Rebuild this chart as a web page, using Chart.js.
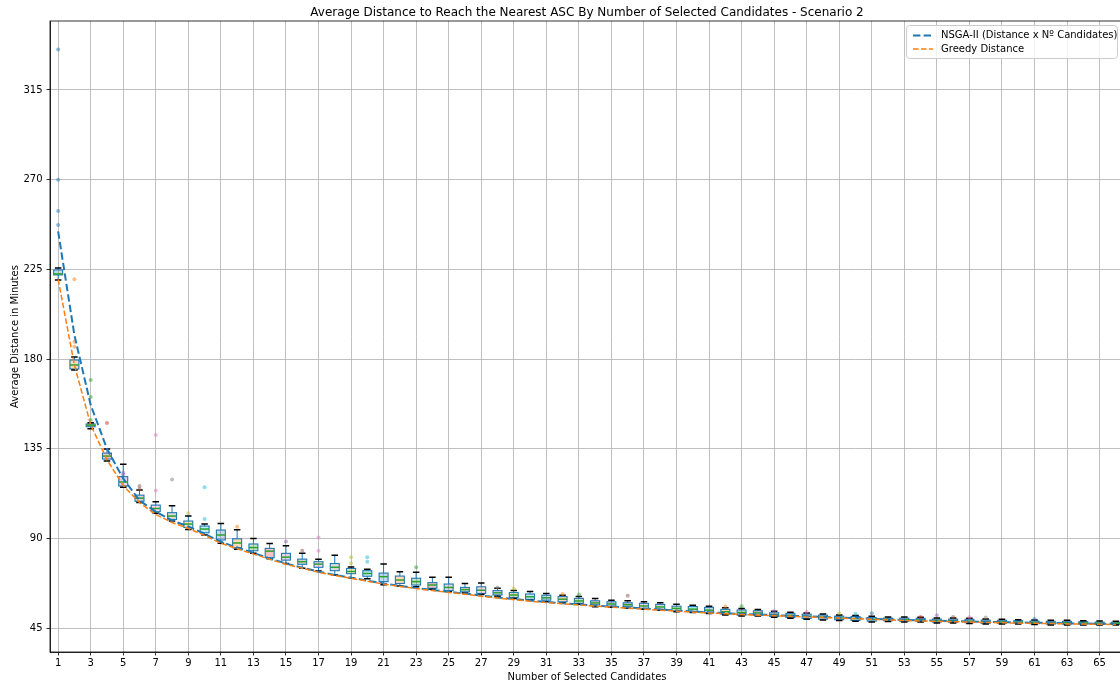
<!DOCTYPE html>
<html>
<head>
<meta charset="utf-8">
<title>Average Distance - Scenario 2</title>
<script src="https://cdn.jsdelivr.net/npm/chart.js@4.4.0/dist/chart.umd.min.js"></script>
<style>
  html, body { margin: 0; padding: 0; background: #fff; overflow: hidden; }
  #wrap { width: 1128px; height: 686px; }
</style>
</head>
<body>
<div id="wrap"><canvas id="distChart" width="1128" height="686"></canvas></div>
<script>
// Data
const candidates = [1, 2, 3, 4, 5, 6, 7, 8, 9, 10, 11, 12, 13, 14, 15, 16, 17, 18, 19, 20, 21, 22,
  23, 24, 25, 26, 27, 28, 29, 30, 31, 32, 33, 34, 35, 36, 37, 38, 39, 40, 41, 42, 43, 44,
  45, 46, 47, 48, 49, 50, 51, 52, 53, 54, 55, 56, 57, 58, 59, 60, 61, 62, 63, 64, 65, 66];

const whiskerLow = [219.6, 174.5, 145, 128.8, 115.7, 108, 102.6, 98.7, 94.5, 91.7, 87.6, 84.5, 82.5, 79.8,
  77.4, 75, 73.6, 71.6, 70.3, 69.7, 66.8, 66.1, 65.7, 64.5, 63.2, 62.6, 61.8, 61, 59.9, 59, 58.2, 57.7,
  56.9, 55.7, 55.5, 55, 54.4, 53.9, 53.2, 52.8, 52.3, 51.6, 51.1, 51.1, 50.4, 49.9, 49.4, 49.1, 48.8,
  48.4, 48.1, 48.3, 48, 48, 47.6, 47.5, 47.3, 47, 47, 47, 46.8, 46.6, 46.6, 46.6, 46.5, 46.5];
const quart1 = [222.2, 175, 146, 129.8, 116.3, 108.6, 103.4, 99.5, 95.5, 92.8, 89.2, 85.3, 83.8, 80.3,
  79.1, 77, 75.5, 73.8, 72.3, 71, 68.3, 67.4, 66.6, 65, 63.8, 63.2, 62.4, 61.6, 60.4, 59.4, 59, 58.2,
  57.4, 56.6, 56, 55.7, 54.9, 54.4, 53.7, 53.4, 52.7, 52, 51.5, 51.5, 50.8, 50.3, 49.8, 49.5, 49.2,
  48.8, 48.5, 48.7, 48.4, 48.4, 48, 47.9, 47.7, 47.4, 47.4, 47.4, 47.2, 47, 47, 47, 46.9, 46.9];
const medians = [222.7, 177, 146.8, 131.3, 118.3, 110.2, 105, 101.2, 97.2, 94.7, 91.7, 87.7, 85.4, 83.6,
  80.6, 78.3, 77.1, 75.5, 73.4, 72.4, 70.8, 69.1, 68.3, 66.6, 65.4, 64.3, 64, 62.7, 61.6, 60.7, 60.2, 59.5,
  58.6, 57.6, 57.1, 56.7, 56.1, 55.6, 54.9, 54.5, 54, 53.2, 52.8, 52.6, 51.8, 51.4, 50.9, 50.5, 50.1,
  49.8, 49.4, 49.4, 49.2, 49.1, 48.8, 48.7, 48.5, 48.2, 48.1, 48, 47.8, 47.7, 47.7, 47.6, 47.4, 47.4];
const quart3 = [224.7, 179.5, 147.4, 132.8, 121, 111.7, 106.7, 102.9, 98.7, 96.2, 94.2, 89.8, 87.2, 85,
  82.5, 79.6, 78.3, 77.4, 74.9, 73.8, 72.6, 71.1, 70, 67.8, 67.1, 65.4, 65.7, 63.8, 62.8, 62.1, 61.5, 60.8,
  59.9, 58.7, 58.2, 57.7, 57.4, 56.9, 56, 55.8, 55.4, 54.4, 54.1, 53.7, 52.7, 52.4, 52, 51.5, 51,
  50.8, 50.3, 50, 50, 49.9, 49.5, 49.5, 49.4, 49, 48.9, 48.7, 48.5, 48.4, 48.4, 48.2, 48, 47.9];
const whiskerHigh = [225.7, 181, 148, 134.8, 127.2, 114.3, 108.4, 106.4, 101.2, 97.2, 97.5, 94.3, 90, 87.5,
  86.3, 82.5, 79.5, 81.6, 75.7, 74.5, 77.1, 73.3, 73, 70.5, 70.5, 67.4, 67.6, 65, 63.8, 63.3, 62.4, 61.5,
  60.8, 59.9, 59, 58.7, 58.2, 57.7, 56.9, 56.5, 56, 55.2, 54.8, 54.3, 53.4, 53, 52.6, 52.1, 51.6,
  51.3, 50.9, 50.6, 50.5, 50.4, 50, 50, 49.9, 49.5, 49.4, 49.2, 49, 48.9, 48.9, 48.7, 48.5, 48.4];

const nsgaDistance = [244, 192, 157, 135, 120, 109, 103.4, 99, 96, 92.3, 88.3, 85.4, 82.7, 80, 77.4,
  75.3, 73.3, 71.7, 70.3, 68.8, 67.4, 66.2, 65.1, 64.1, 63.2, 62.3, 61.3, 60.4, 59.6, 58.8, 58.1, 57.5,
  56.9, 56.3, 55.8, 55.3, 54.8, 54.3, 53.8, 53.3, 52.9, 52.5, 52.1, 51.8, 51.5, 51.2, 50.9, 50.6, 50.3,
  50, 49.7, 49.4, 49.1, 48.9, 48.7, 48.5, 48.3, 48.1, 48, 47.8, 47.7, 47.6, 47.4, 47.3, 47.2, 47.1];
const greedyDistance = [220, 177, 147, 129.5, 116.5, 108, 102, 98, 95, 91.5, 87.5, 84.8, 82.2, 79.5, 77,
  75, 73, 71.4, 70, 68.5, 67.1, 65.9, 64.8, 63.8, 62.9, 62, 61, 60.1, 59.3, 58.5, 57.8, 57.2,
  56.6, 56, 55.5, 55, 54.5, 54, 53.5, 53, 52.6, 52.2, 51.8, 51.5, 51.2, 50.9, 50.6, 50.3, 50,
  49.7, 49.4, 49.1, 48.8, 48.6, 48.4, 48.2, 48, 47.8, 47.7, 47.5, 47.4, 47.3, 47.1, 47, 46.9, 46.8];

const outlierCandidate = [1, 1, 1, 1, 2, 2, 2, 3, 3, 3, 4, 5, 5, 6, 6, 7, 7, 8, 9, 10, 10, 12, 15, 16,
  17, 17, 19, 19, 20, 20, 23, 28, 29, 32, 33, 36, 42, 43, 45, 47, 49, 50, 51, 54, 55, 56, 57, 58, 61];
const outlierValue = [335.3, 270, 254.3, 247.2, 220, 188.7, 186.2, 169.5, 161, 149.4, 147.9, 123, 122,
  116.3, 114.8, 141.9, 114, 119.6, 102.6, 115.6, 99.7, 95.8, 88.5, 83.8, 90.4, 83.8, 80.5, 77.5, 80.5,
  78.3, 75.5, 65.4, 64.9, 62.1, 61.9, 61.2, 55.8, 56, 53.4, 53.1, 52.4, 52.2, 52.4, 50.6, 51.5, 50.5,
  50.4, 50.3, 49.5];

const xTicks = [1, 3, 5, 7, 9, 11, 13, 15, 17, 19, 21, 23, 25, 27, 29, 31, 33, 35, 37, 39, 41, 43, 45,
  47, 49, 51, 53, 55, 57, 59, 61, 63, 65];
const yTicks = [45, 90, 135, 180, 225, 270, 315];

const chartTitle = 'Average Distance to Reach the Nearest ASC By Number of Selected Candidates - Scenario 2';
const seriesLabels = ['NSGA-II (Distance x Nº Candidates)', 'Greedy Distance'];

// matplotlib tab10
const tab10 = ['#1f77b4', '#ff7f0e', '#2ca02c', '#d62728', '#9467bd', '#8c564b', '#e377c2', '#7f7f7f', '#bcbd22', '#17becf'];
function withAlpha(hex, a) {
  const n = parseInt(hex.slice(1), 16);
  return 'rgba(' + (n >> 16) + ',' + ((n >> 8) & 255) + ',' + (n & 255) + ',' + a + ')';
}

Chart.defaults.font.family = '"DejaVu Sans", sans-serif';
Chart.defaults.color = '#000';

// boxes, whiskers and caps drawn through the chart scales
const boxPlugin = {
  id: 'boxes',
  beforeDatasetsDraw(chart) {
    const { ctx, chartArea, scales: { x, y } } = chart;
    ctx.save();
    ctx.beginPath();
    ctx.rect(chartArea.left, chartArea.top, chartArea.right - chartArea.left, chartArea.bottom - chartArea.top);
    ctx.clip();
    candidates.forEach((c, i) => {
      const px = x.getPixelForValue(c);
      const half = x.getPixelForValue(c + 0.275) - px;
      const capHalf = x.getPixelForValue(c + 0.2) - px;
      const yLo = y.getPixelForValue(whiskerLow[i]);
      const yQ1 = y.getPixelForValue(quart1[i]);
      const yMed = y.getPixelForValue(medians[i]);
      const yQ3 = y.getPixelForValue(quart3[i]);
      const yHi = y.getPixelForValue(whiskerHigh[i]);

      // whiskers
      ctx.strokeStyle = '#1f77b4';
      ctx.lineWidth = 1;
      ctx.beginPath();
      ctx.moveTo(px, yQ1); ctx.lineTo(px, yLo);
      ctx.moveTo(px, yQ3); ctx.lineTo(px, yHi);
      ctx.stroke();

      // box
      ctx.fillStyle = withAlpha(tab10[i % 10], 0.28);
      ctx.fillRect(px - half, yQ3, 2 * half, yQ1 - yQ3);
      ctx.strokeStyle = '#1f77b4';
      ctx.lineWidth = 1.1;
      ctx.strokeRect(px - half, yQ3, 2 * half, yQ1 - yQ3);

      // median
      ctx.strokeStyle = '#2ca02c';
      ctx.lineWidth = 1.5;
      ctx.beginPath();
      ctx.moveTo(px - half, yMed); ctx.lineTo(px + half, yMed);
      ctx.stroke();

      // caps
      ctx.strokeStyle = '#000';
      ctx.lineWidth = 1.5;
      ctx.beginPath();
      ctx.moveTo(px - capHalf, yLo); ctx.lineTo(px + capHalf, yLo);
      ctx.moveTo(px - capHalf, yHi); ctx.lineTo(px + capHalf, yHi);
      ctx.stroke();
    });
    ctx.restore();
  }
};

// frame, title and legend in matplotlib style
const decorPlugin = {
  id: 'decor',
  afterDraw(chart) {
    const { ctx, chartArea, scales: { x } } = chart;
    ctx.save();
    ctx.strokeStyle = '#000';
    ctx.lineWidth = 0.8;
    ctx.strokeRect(chartArea.left, chartArea.top, chartArea.right - chartArea.left, chartArea.bottom - chartArea.top);

    const axesRight = x.getPixelForValue(66.5);
    ctx.fillStyle = '#000';
    ctx.font = '12px "DejaVu Sans"';
    ctx.textAlign = 'center';
    ctx.textBaseline = 'alphabetic';
    ctx.fillText(chartTitle, (chartArea.left + axesRight) / 2, 16);

    // legend
    const lw = 211, lh = 33;
    const lx = axesRight - 7 - lw, ly = chartArea.top + 4;
    ctx.fillStyle = 'rgba(255,255,255,0.8)';
    ctx.strokeStyle = '#cccccc';
    ctx.lineWidth = 1;
    ctx.beginPath();
    ctx.roundRect(Math.round(lx) + 0.5, Math.round(ly) + 0.5, lw, lh, 3);
    ctx.fill();
    ctx.stroke();

    const rows = [
      { color: '#1f77b4', width: 2, dash: [7.4, 3.2], y: ly + 10.5 },
      { color: '#ff7f0e', width: 1.5, dash: [5.55, 2.4], y: ly + 24 }
    ];
    ctx.font = '10px "DejaVu Sans"';
    ctx.textAlign = 'left';
    ctx.textBaseline = 'middle';
    rows.forEach((r, k) => {
      ctx.strokeStyle = r.color;
      ctx.lineWidth = r.width;
      ctx.setLineDash(r.dash);
      ctx.beginPath();
      ctx.moveTo(lx + 7, r.y);
      ctx.lineTo(lx + 27, r.y);
      ctx.stroke();
      ctx.setLineDash([]);
      ctx.fillStyle = '#000';
      ctx.fillText(seriesLabels[k], lx + 35, r.y);
    });
    ctx.restore();
  }
};

const ctx = document.getElementById('distChart').getContext('2d');

const chart = new Chart(ctx, {
  type: 'line',
  data: {
    datasets: [
      {
        label: seriesLabels[0],
        data: candidates.map((c, i) => ({ x: c, y: nsgaDistance[i] })),
        borderColor: '#1f77b4',
        borderWidth: 2,
        borderDash: [7.4, 3.2],
        pointRadius: 0,
        tension: 0,
        fill: false,
        order: 2
      },
      {
        label: seriesLabels[1],
        data: candidates.map((c, i) => ({ x: c, y: greedyDistance[i] })),
        borderColor: '#ff7f0e',
        borderWidth: 1.5,
        borderDash: [5.55, 2.4],
        pointRadius: 0,
        tension: 0,
        fill: false,
        order: 1
      },
      {
        label: 'points',
        type: 'scatter',
        data: outlierCandidate.map((c, i) => ({ x: c, y: outlierValue[i] })),
        backgroundColor: outlierCandidate.map(c => withAlpha(tab10[(c - 1) % 10], 0.5)),
        borderWidth: 0,
        pointRadius: 2,
        order: 3
      }
    ]
  },
  options: {
    responsive: false,
    animation: false,
    layout: { padding: { top: 21, left: 0, right: 0, bottom: 0 } },
    plugins: {
      legend: { display: false },
      title: { display: false },
      tooltip: { enabled: false }
    },
    scales: {
      x: {
        type: 'linear',
        min: 0.5,
        max: 66.5,
        afterFit: scale => { scale.height = 34; },
        afterBuildTicks: scale => { scale.ticks = xTicks.map(v => ({ value: v })); },
        grid: {
          color: '#b0b0b0',
          lineWidth: 0.8,
          tickColor: '#000',
          tickLength: 3.5,
          tickWidth: 0.8
        },
        border: { display: true, color: '#000', width: 0.8 },
        ticks: {
          autoSkip: false,
          maxRotation: 0,
          padding: 2,
          font: { size: 10 },
          color: '#000',
          callback: v => String(v)
        },
        title: {
          display: true,
          text: 'Number of Selected Candidates',
          font: { size: 10 },
          color: '#000',
          padding: { top: 0, bottom: 3 }
        }
      },
      y: {
        type: 'linear',
        min: 33,
        max: 349.6,
        afterFit: scale => { scale.width = 50; },
        afterBuildTicks: scale => { scale.ticks = yTicks.map(v => ({ value: v })); },
        grid: {
          color: '#b0b0b0',
          lineWidth: 0.8,
          tickColor: '#000',
          tickLength: 3.5,
          tickWidth: 0.8
        },
        border: { display: true, color: '#000', width: 0.8 },
        ticks: {
          padding: 4,
          font: { size: 10 },
          color: '#000',
          callback: v => String(v)
        },
        title: {
          display: true,
          text: 'Average Distance in Minutes',
          font: { size: 10 },
          color: '#000',
          padding: { top: 9, bottom: 0 }
        }
      }
    }
  },
  plugins: [boxPlugin, decorPlugin]
});
</script>
</body>
</html>
